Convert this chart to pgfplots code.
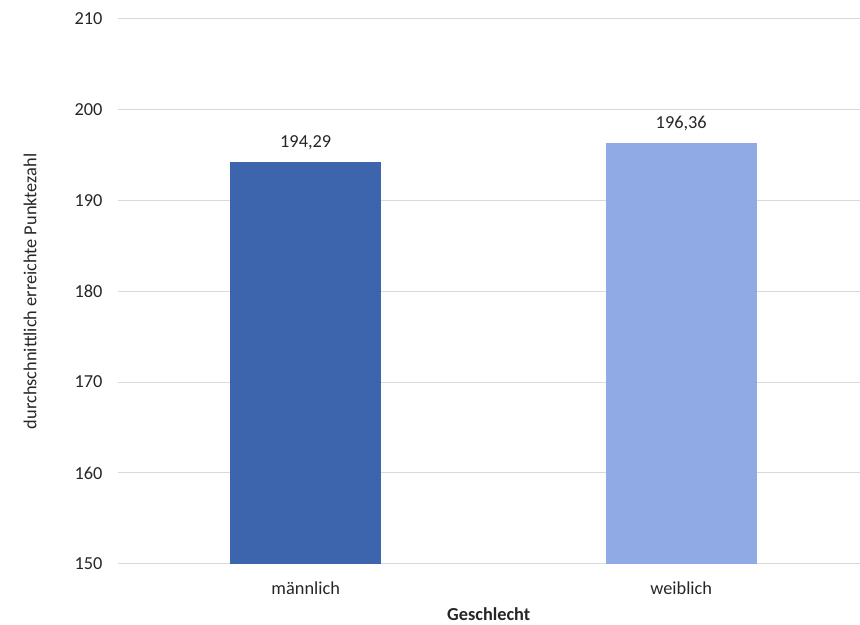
\documentclass[border=0pt]{standalone}
\usepackage{pgfplots}
\pgfplotsset{compat=1.18}
\usepackage{fontspec}
\setmainfont{Carlito}
\definecolor{maleblue}{HTML}{3C65AD}
\definecolor{femaleblue}{HTML}{8FAAE5}
\definecolor{gridgray}{HTML}{D9D9D9}
\definecolor{txt}{HTML}{262626}
\newcommand{\chartfont}{\fontsize{18.4}{22}\selectfont}
\begin{document}
\begin{tikzpicture}
\begin{axis}[name=ax,
    scale only axis,
    width=742bp, height=545bp,
    ymin=150, ymax=210, ytick={150,160,...,210},
    xmin=-0.5, xmax=1.4747,
    xtick={0,1}, xticklabels={männlich,weiblich},
    ymajorgrids, grid style={gridgray, line width=1bp},
    axis x line*=bottom, axis y line*=left,
    x axis line style={gridgray, line width=1bp, -},
    y axis line style={draw=none},
    major tick length=0pt,
    tick label style={font=\chartfont, text=txt},
    /pgf/number format/assume math mode=true,
    ylabel={durchschnittlich erreichte Punktezahl},
    xlabel={\bfseries Geschlecht},
    label style={font=\chartfont, text=txt},
    ylabel style={at={(rel axis cs:0,0.5)}, anchor=center, yshift=88bp},
    xlabel style={at={(rel axis cs:0.5,0)}, anchor=center, yshift=-51bp},
    yticklabel style={xshift=-12bp},
    xticklabel style={yshift=-15bp},
    ybar, bar width=151bp, bar shift=0pt,
    nodes near coords={\pgfmathprintnumber[fixed,precision=2,fixed zerofill,use comma]{\pgfplotspointmeta}},
    nodes near coords style={font=\chartfont, text=txt, yshift=8bp, /pgf/number format/assume math mode=true},
    clip=false,
]
\addplot[fill=maleblue, draw=none] coordinates {(0,194.29)};
\addplot[fill=femaleblue, draw=none] coordinates {(1,196.36)};
\end{axis}
\path[use as bounding box] ([xshift=-118bp,yshift=-61bp]ax.south west) rectangle ([yshift=19bp]ax.north east);
\end{tikzpicture}
\end{document}
